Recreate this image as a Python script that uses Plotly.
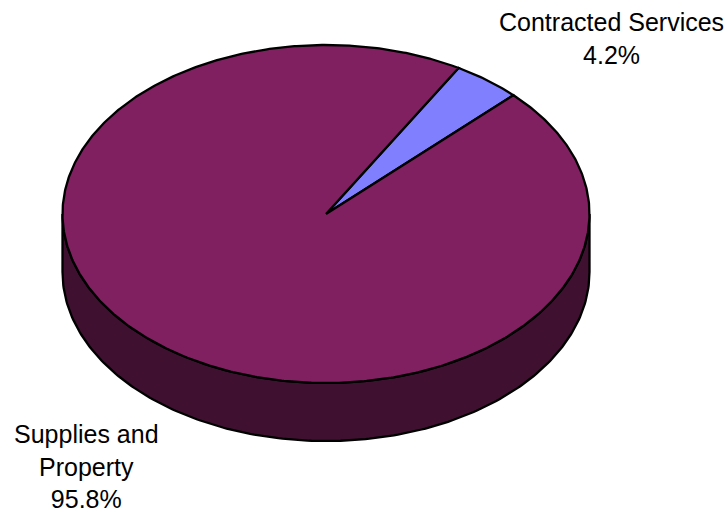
import numpy as np
import plotly.graph_objects as go

# Expense categories and their amounts (percent of total)
categories = ["Contracted Services", "Supplies and Property"]
values = [4.2, 95.8]
label_lines = [["Contracted Services"], ["Supplies and", "Property"]]

top_colors = ["#8080FF", "#802060"]
side_colors = ["#404080", "#401030"]

# Ellipse geometry of the tilted pie (pixel space)
W, H = 728, 513
cx, cy = 326.0, 214.0
rx, ry = 263.5, 169.0
depth = 58.0
start_deg = 30.2  # first slice begins here, clockwise from 12 o'clock

fig = go.Figure()


def ellipse_pts(a0, a1, dy=0.0, n=200):
    t = np.radians(np.linspace(a0, a1, n))
    return cx + rx * np.sin(t), cy - ry * np.cos(t) + dy


total = float(sum(values))
spans = [v / total * 360.0 for v in values]
starts = [start_deg + sum(spans[:i]) for i in range(len(values))]

# Side wall: only the front half (90..270 deg) is visible
for s, sp, col in zip(starts, spans, side_colors):
    for k in (-1, 0, 1):
        a0 = max(s + 360 * k, 90.0)
        a1 = min(s + sp + 360 * k, 270.0)
        if a1 <= a0:
            continue
        xt, yt = ellipse_pts(a0, a1)
        xb, yb = ellipse_pts(a1, a0, dy=depth)
        xs = np.concatenate([xt, xb, xt[:1]])
        ys = np.concatenate([yt, yb, yt[:1]])
        fig.add_trace(go.Scatter(
            x=xs, y=ys, mode="lines", fill="toself", fillcolor=col,
            line=dict(color="black", width=2.3), hoverinfo="skip",
            showlegend=False))

# Top faces of the slices
for s, sp, col in zip(starts, spans, top_colors):
    xa, ya = ellipse_pts(s, s + sp, n=max(10, int(sp * 2)))
    xs = np.concatenate([[cx], xa, [cx]])
    ys = np.concatenate([[cy], ya, [cy]])
    fig.add_trace(go.Scatter(
        x=xs, y=ys, mode="lines", fill="toself", fillcolor=col,
        line=dict(color="black", width=2.3), hoverinfo="skip",
        showlegend=False))

# Category labels with percentages
label_pos = [(611, 38), (86, 466)]
for lines, v, (lx, ly) in zip(label_lines, values, label_pos):
    fig.add_annotation(
        x=lx, y=ly, xref="x", yref="y", showarrow=False,
        text="<br>".join(lines + [f"{v / total * 100:.1f}%"]),
        font=dict(family="Arial, Liberation Sans, sans-serif", size=25, color="black"),
        xanchor="center", yanchor="middle", align="center")

fig.update_layout(
    width=W, height=H, margin=dict(l=0, r=0, t=0, b=0),
    paper_bgcolor="white", plot_bgcolor="white",
    xaxis=dict(range=[0, W], visible=False, fixedrange=True),
    yaxis=dict(range=[H, 0], visible=False, fixedrange=True),
)

fig.write_html("out.html")
